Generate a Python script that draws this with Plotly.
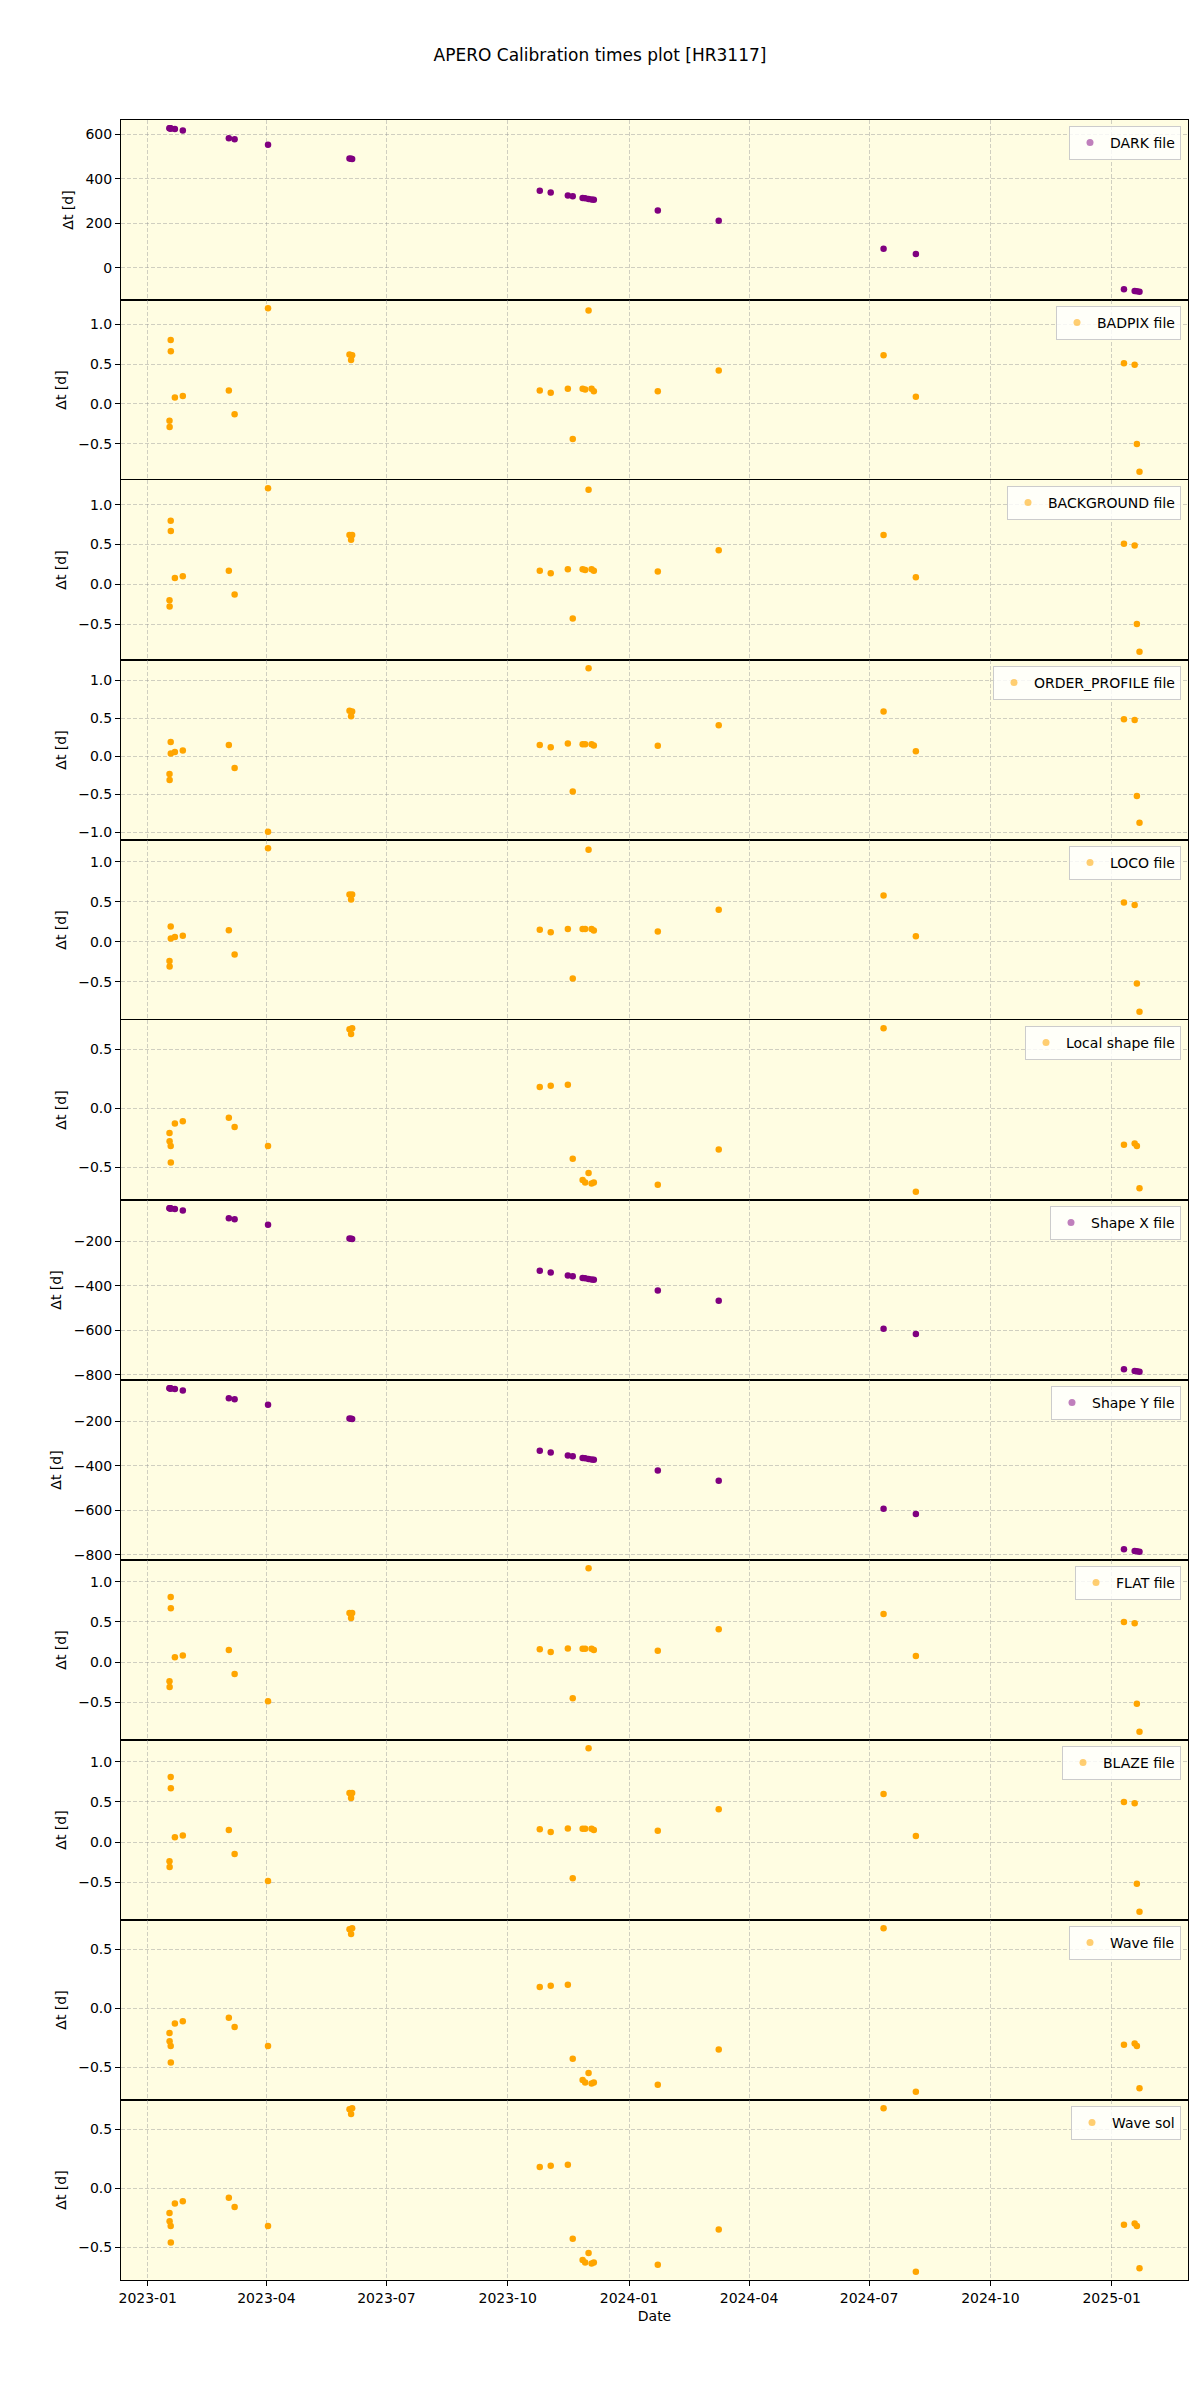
import pandas as pd
import plotly.graph_objects as go
from plotly.subplots import make_subplots

# Observation dates (shared by all panels)
obs_dates = [
    "2023-01-17 12:00", "2023-01-17 14:00", "2023-01-18 10:00", "2023-01-18 12:00",
    "2023-01-21 14:00", "2023-01-27 14:00", "2023-03-03 12:00", "2023-03-07 21:00",
    "2023-04-02 05:00", "2023-06-03 00:00", "2023-06-04 05:00", "2023-06-05 00:00",
    "2023-10-25 07:00", "2023-11-02 14:00", "2023-11-15 14:00", "2023-11-19 07:00",
    "2023-11-26 19:00", "2023-11-28 17:00", "2023-12-01 07:00", "2023-12-03 14:00",
    "2023-12-05 07:00", "2024-01-22 19:00", "2024-03-09 00:00", "2024-07-12 00:00",
    "2024-08-05 12:00", "2025-01-10 07:00", "2025-01-18 10:00", "2025-01-20 02:00",
    "2025-01-22 02:00",
]

dark_dt = [627.0, 626.9, 626.1, 626.0, 622.9, 616.9, 582.0, 577.6, 552.3, 490.5, 489.3, 488.5,
           346.2, 337.9, 324.9, 321.2, 313.7, 311.8, 309.2, 306.9, 305.2, 256.7, 210.5, 85.5,
           61.0, -96.8, -104.9, -106.6, -108.6]
badpix_dt = [-0.21, -0.29, 0.80, 0.66, 0.08, 0.10, 0.17, -0.13, 1.20, 0.62, 0.55, 0.61,
             0.17, 0.14, 0.19, -0.44, 0.19, 0.18, 1.17, 0.19, 0.16, 0.16, 0.42, 0.61,
             0.09, 0.51, 0.49, -0.50, -0.85]
background_dt = [-0.20, -0.28, 0.80, 0.67, 0.08, 0.10, 0.17, -0.13, 1.21, 0.62, 0.56, 0.62,
                 0.17, 0.14, 0.19, -0.43, 0.19, 0.18, 1.19, 0.19, 0.17, 0.16, 0.43, 0.62,
                 0.09, 0.51, 0.49, -0.50, -0.85]
order_profile_dt = [-0.23, -0.31, 0.19, 0.04, 0.06, 0.08, 0.15, -0.15, -0.99, 0.60, 0.53, 0.59,
                    0.15, 0.12, 0.17, -0.46, 0.16, 0.16, 1.16, 0.16, 0.145, 0.14, 0.41, 0.59,
                    0.07, 0.49, 0.48, -0.52, -0.87]
loco_dt = [-0.24, -0.31, 0.19, 0.04, 0.06, 0.075, 0.145, -0.16, 1.17, 0.59, 0.53, 0.59,
           0.15, 0.12, 0.16, -0.46, 0.16, 0.16, 1.15, 0.16, 0.14, 0.13, 0.40, 0.58,
           0.07, 0.49, 0.46, -0.52, -0.875]
local_shape_dt = [-0.21, -0.28, -0.32, -0.46, -0.13, -0.11, -0.08, -0.16, -0.32, 0.67, 0.63, 0.68,
                  0.18, 0.19, 0.20, -0.43, -0.61, -0.63, -0.55, -0.64, -0.63, -0.65, -0.35, 0.68,
                  -0.71, -0.31, -0.30, -0.32, -0.68]
shape_x_dt = [-51.0, -51.1, -51.9, -52.0, -55.1, -61.1, -96.0, -100.4, -125.7, -187.5, -188.7, -189.5,
              -331.8, -340.1, -353.1, -356.8, -364.3, -366.2, -368.8, -371.1, -372.8, -421.3, -467.5,
              -592.5, -617.0, -774.8, -782.9, -784.6, -786.6]
shape_y_dt = [-51.0, -51.1, -51.9, -52.0, -55.1, -61.1, -96.0, -100.4, -125.7, -187.5, -188.7, -189.5,
              -331.8, -340.1, -353.1, -356.8, -364.3, -366.2, -368.8, -371.1, -372.8, -421.3, -467.5,
              -592.5, -617.0, -774.8, -782.9, -784.6, -786.6]
flat_dt = [-0.24, -0.31, 0.81, 0.67, 0.06, 0.08, 0.15, -0.15, -0.49, 0.61, 0.55, 0.61,
           0.16, 0.125, 0.17, -0.45, 0.165, 0.165, 1.17, 0.165, 0.15, 0.14, 0.41, 0.60,
           0.075, 0.50, 0.485, -0.52, -0.87]
blaze_dt = [-0.24, -0.31, 0.81, 0.67, 0.06, 0.08, 0.15, -0.15, -0.485, 0.61, 0.55, 0.61,
            0.16, 0.125, 0.17, -0.45, 0.165, 0.165, 1.17, 0.165, 0.15, 0.14, 0.41, 0.60,
            0.075, 0.50, 0.485, -0.52, -0.87]
wave_file_dt = [-0.21, -0.28, -0.32, -0.46, -0.13, -0.11, -0.08, -0.16, -0.32, 0.67, 0.63, 0.68,
                0.18, 0.19, 0.20, -0.43, -0.61, -0.63, -0.55, -0.64, -0.63, -0.65, -0.35, 0.68,
                -0.71, -0.31, -0.30, -0.32, -0.68]
wave_sol_dt = [-0.21, -0.28, -0.32, -0.46, -0.13, -0.11, -0.08, -0.16, -0.32, 0.67, 0.63, 0.68,
               0.18, 0.19, 0.20, -0.43, -0.61, -0.63, -0.55, -0.64, -0.63, -0.65, -0.35, 0.68,
               -0.71, -0.31, -0.30, -0.32, -0.68]

PURPLE = "#800080"
ORANGE = "#FFA500"
LEGEND_PURPLE = "rgba(128,0,128,0.5)"
LEGEND_ORANGE = "rgba(255,165,0,0.55)"

panels = [
    ("DARK file", dark_dt, PURPLE, LEGEND_PURPLE, 200),
    ("BADPIX file", badpix_dt, ORANGE, LEGEND_ORANGE, 0.5),
    ("BACKGROUND file", background_dt, ORANGE, LEGEND_ORANGE, 0.5),
    ("ORDER_PROFILE file", order_profile_dt, ORANGE, LEGEND_ORANGE, 0.5),
    ("LOCO file", loco_dt, ORANGE, LEGEND_ORANGE, 0.5),
    ("Local shape file", local_shape_dt, ORANGE, LEGEND_ORANGE, 0.5),
    ("Shape X file", shape_x_dt, PURPLE, LEGEND_PURPLE, 200),
    ("Shape Y file", shape_y_dt, PURPLE, LEGEND_PURPLE, 200),
    ("FLAT file", flat_dt, ORANGE, LEGEND_ORANGE, 0.5),
    ("BLAZE file", blaze_dt, ORANGE, LEGEND_ORANGE, 0.5),
    ("Wave file", wave_file_dt, ORANGE, LEGEND_ORANGE, 0.5),
    ("Wave sol", wave_sol_dt, ORANGE, LEGEND_ORANGE, 0.5),
]

n = len(panels)
W, H = 1200, 2400
ML, MR, MT, MB = 121, 12, 120, 120
plot_w = W - ML - MR
plot_h = H - MT - MB
panel_h = plot_h / n

fig = make_subplots(rows=n, cols=1, shared_xaxes=True, vertical_spacing=0)

dates = pd.to_datetime(obs_dates)
dmin, dmax = dates.min(), dates.max()
xpad = (dmax - dmin) * 0.05
xrange = [str(dmin - xpad), str(dmax + xpad)]

FONT = "DejaVu Sans"
grid_color = "rgba(150,150,150,0.45)"

for i, (name, vals, col, lcol, dtick) in enumerate(panels):
    r = i + 1
    lname = "legend" if i == 0 else f"legend{i+1}"
    fig.add_trace(go.Scatter(x=dates, y=vals, mode="markers",
                             marker=dict(color=col, size=6.5, line=dict(width=0)),
                             showlegend=False, hoverinfo="x+y"), row=r, col=1)
    fig.add_trace(go.Scatter(x=[None], y=[None], mode="markers", name=name,
                             marker=dict(color=lcol, size=7, line=dict(width=0)),
                             showlegend=True, legend=lname), row=r, col=1)
    lo, hi = min(vals), max(vals)
    pad = (hi - lo) * 0.05
    yfmt = ".1f" if dtick < 1 else ""
    fig.update_yaxes(range=[lo - pad, hi + pad], dtick=dtick, tick0=0, tickformat=yfmt,
                     title=dict(text="Δt [d]", font=dict(size=14, color="black", family=FONT), standoff=8),
                     automargin=False,
                     showgrid=True, gridcolor=grid_color, griddash="4px,2px", gridwidth=1,
                     zeroline=False, showline=True, mirror=True, linecolor="black", linewidth=1,
                     ticks="outside", ticklen=5, tickcolor="black",
                     tickfont=dict(size=14, color="black", family=FONT),
                     row=r, col=1)
    fig.update_xaxes(range=xrange, type="date", dtick="M3", tick0="2023-01-01",
                     tickformat="%Y-%m", automargin=False,
                     showgrid=True, gridcolor=grid_color, griddash="4px,2px", gridwidth=1,
                     zeroline=False, showline=True, mirror=True, linecolor="black", linewidth=1,
                     ticks="outside" if r == n else "", ticklen=5, tickcolor="black",
                     showticklabels=(r == n),
                     tickfont=dict(size=14, color="black", family=FONT),
                     row=r, col=1)
    # legend box in the upper right of each panel
    ly = 1 - (i * panel_h + 6) / plot_h
    fig.update_layout({lname: dict(x=1 - 7 / plot_w, y=ly, xanchor="right", yanchor="top",
                                   bgcolor="rgba(255,255,255,0.8)", bordercolor="#cccccc",
                                   borderwidth=1,
                                   font=dict(size=14, color="black", family=FONT))})

fig.update_xaxes(title=dict(text="Date", font=dict(size=14, color="black", family=FONT), standoff=6),
                 row=n, col=1)

fig.update_layout(
    width=W, height=H,
    margin=dict(l=ML, r=MR, t=MT, b=MB, autoexpand=False),
    paper_bgcolor="white",
    plot_bgcolor="#FFFDE2",
    font=dict(family=FONT, size=14, color="black"),
    title=dict(text="APERO Calibration times plot [HR3117]", x=0.5, xref="container",
               xanchor="center", y=1 - 55 / H, yanchor="middle",
               font=dict(size=17, color="black", family=FONT)),
)

fig.write_html("out.html", config={"displayModeBar": False},
               post_script="document.body.style.margin='0';document.body.style.padding='0';")
